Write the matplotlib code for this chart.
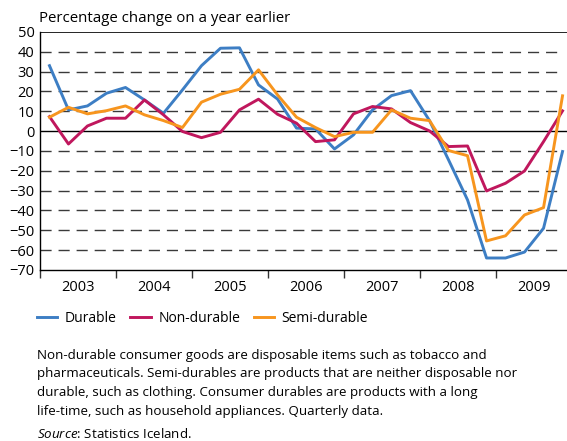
import matplotlib.pyplot as plt
import numpy as np

plt.rcParams['font.family'] = ['Open Sans', 'DejaVu Sans']
plt.rcParams['mathtext.fontset'] = 'custom'
plt.rcParams['mathtext.it'] = 'Open Sans:italic'
plt.rcParams['mathtext.rm'] = 'Open Sans'

years = ['2003', '2004', '2005', '2006', '2007', '2008', '2009']
# quarterly, % change on a year earlier, 2003Q1 - 2009Q4
durable = [33.0, 10.7, 12.7, 19.1, 22.0, 15.7, 9.0, 20.8,
           33.0, 41.8, 42.0, 23.3, 16.2, 1.5, 1.1, -9.0,
           -1.9, 10.7, 17.9, 20.4, 5.3, -14.5, -34.7, -64.0,
           -64.0, -61.0, -49.0, -10.3]
non_durable = [7.3, -6.5, 2.6, 6.5, 6.5, 15.7, 8.2, -0.2,
               -3.3, -0.6, 10.7, 16.1, 8.5, 4.0, -5.3, -4.4,
               8.7, 12.4, 11.2, 4.3, 0.1, -7.8, -7.5, -30.2,
               -26.3, -20.1, -5.3, 10.2]
semi_durable = [7.0, 12.0, 8.7, 10.3, 12.7, 8.2, 5.3, 1.8,
                14.6, 18.6, 21.1, 30.9, 18.3, 7.0, 1.8, -2.8,
                -0.6, -0.6, 10.7, 6.5, 5.3, -9.8, -12.4, -55.4,
                -52.8, -42.3, -38.6, 17.8]

note_lines = [
    'Non-durable consumer goods are disposable items such as tobacco and',
    'pharmaceuticals. Semi-durables are products that are neither disposable nor',
    'durable, such as clothing. Consumer durables are products with a long',
    'life-time, such as household appliances. Quarterly data.',
]

x = np.arange(len(durable))

fig = plt.figure(figsize=(5.67, 4.41), dpi=100)
ax = fig.add_axes([0.0705, 0.388, 0.93, 0.5395])

# grid lines, dashed except zero
for v in range(-60, 50, 10):
    if v == 0:
        ax.axhline(0, color='black', lw=1.0, zorder=1)
    else:
        ax.axhline(v, xmax=0.988, color='#3a3a3a', lw=1.0,
                   dashes=(8, 5), zorder=1)
ax.axhline(50, color='black', lw=1.2, zorder=1)

ax.plot(x, durable, color='#3d7ec4', lw=2.1, label='Durable', zorder=3)
ax.plot(x, non_durable, color='#c0175d', lw=2.1, label='Non-durable', zorder=3)
ax.plot(x, semi_durable, color='#f7951e', lw=2.1, label='Semi-durable', zorder=3)

ax.set_xlim(-0.5, 27.25)
ax.set_ylim(-70, 50)
ax.set_yticks(range(-70, 51, 10))
ax.tick_params(axis='y', length=0, labelsize=10.5, pad=4)

ax.set_xticks(np.arange(len(years)) * 4 - 0.5)
ax.set_xticklabels([])
ax.set_xticks(np.arange(len(years)) * 4 + 1.5, minor=True)
ax.set_xticklabels(years, minor=True)
ax.tick_params(axis='x', which='major', length=6, width=1, direction='out', color='#333333')
ax.tick_params(axis='x', which='minor', length=0, labelsize=10.5, pad=7)

for s in ['top', 'right']:
    ax.spines[s].set_visible(False)
ax.spines['left'].set_linewidth(1.0)
ax.spines['bottom'].set_linewidth(1.0)

fig.text(0.068, 0.958, 'Percentage change on a year earlier', fontsize=10.8,
         va='center', ha='left')

ax.legend(loc='center left', bbox_to_anchor=(0.065, 0.277),
          bbox_transform=fig.transFigure, ncol=3,
          frameon=False, fontsize=10, handlelength=1.45, handletextpad=0.55,
          columnspacing=1.0, borderaxespad=0, borderpad=0)

for i, line in enumerate(note_lines):
    fig.text(0.065, 0.195 - i * 0.0427, line, fontsize=9.6, va='center', ha='left')
fig.text(0.065, 0.016, '$\\it{Source}$: Statistics Iceland.', fontsize=9.6,
         va='center', ha='left')

fig.savefig('out.png', dpi=100)
